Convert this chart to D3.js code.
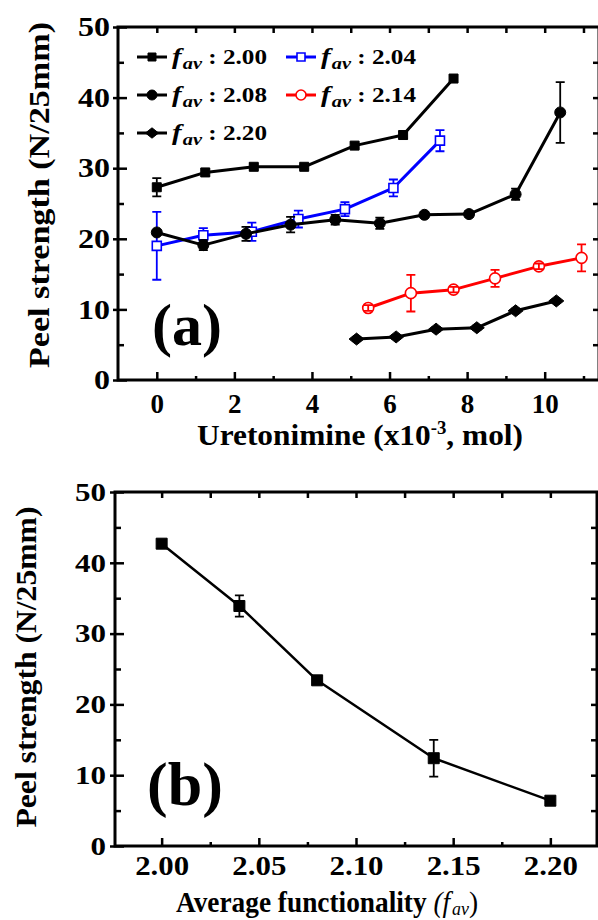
<!DOCTYPE html>
<html>
<head>
<meta charset="utf-8">
<script src="https://cdn.jsdelivr.net/npm/d3@7"></script>
<style>
body { margin: 0; background: #fff; }
svg text { font-family: "Liberation Serif", Tinos, "Times New Roman", Times, serif; font-weight: bold; }
</style>
</head>
<body>
<svg id="fig" width="598" height="920"></svg>
<script>
// panel (a) : peel strength vs uretonimine content, one series per f_av
const f200X = [0, 1.25, 2.5, 3.8, 5.1, 6.35, 7.65];
const f200Y = [27.3, 29.4, 30.2, 30.2, 33.2, 34.7, 42.7];
const f200E = [1.3, 0.5, 0.4, 0.3, 0.4, 0.5, 0.4];

const f204X = [0, 1.2, 2.45, 3.65, 4.85, 6.1, 7.3];
const f204Y = [19.0, 20.5, 21.0, 22.8, 24.2, 27.2, 33.9];
const f204E = [4.8, 1.0, 1.3, 1.2, 1.0, 1.2, 1.5];

const f208X = [0, 1.2, 2.3, 3.45, 4.6, 5.75, 6.9, 8.05, 9.25, 10.4];
const f208Y = [20.9, 19.1, 20.7, 22.0, 22.7, 22.2, 23.4, 23.5, 26.3, 37.9];
const f208E = [0.3, 0.7, 1.0, 1.1, 0.7, 0.8, 0.4, 0.4, 0.8, 4.3];

const f214X = [5.45, 6.55, 7.65, 8.72, 9.85, 10.95];
const f214Y = [10.2, 12.3, 12.8, 14.4, 16.1, 17.3];
const f214E = [0.4, 2.6, 0.4, 1.2, 0.4, 1.9];

const f220X = [5.15, 6.17, 7.2, 8.25, 9.25, 10.3];
const f220Y = [5.8, 6.1, 7.2, 7.4, 9.8, 11.2];
const f220E = [0.3, 0.3, 0.3, 0.3, 0.3, 0.3];

// panel (b) : peel strength vs average functionality
const favX = [2.00, 2.04, 2.08, 2.14, 2.20];
const peelY = [42.7, 33.9, 23.4, 12.4, 6.4];
const peelE = [0.4, 1.5, 0.4, 2.6, 0.3];

// tick labels
const aXTicks = [0, 2, 4, 6, 8, 10];
const aYTicks = [0, 10, 20, 30, 40, 50];
const bXTicks = [2.00, 2.05, 2.10, 2.15, 2.20];
const bYTicks = [0, 10, 20, 30, 40, 50];

const svg = d3.select('#fig');

const zip = (xs, ys, es) => xs.map((v, i) => ({ x: v, y: ys[i], e: es[i] }));

// marker shapes
function markerPath(shape, s) {
    if (shape === 'square') return d3.symbol(d3.symbolSquare, s * s)();
    if (shape === 'circle') return d3.symbol(d3.symbolCircle, Math.PI * s * s / 4)();
    // wide diamond
    const w = s / 2, h = s * 0.4;
    return `M${-w},0L0,${-h}L${w},0L0,${h}Z`;
}

function fixLen(sel, perChar) {
    sel.each(function () {
        d3.select(this).attr('textLength', perChar(this.textContent))
            .attr('lengthAdjust', 'spacingAndGlyphs');
    });
}

// box with ticks on all four sides
function frame(g, x, y, c) {
    const [x0, x1] = x.range();
    const [y0, y1] = y.range();

    const bottom = g.append('g').attr('transform', `translate(0,${y0})`)
        .call(d3.axisBottom(x).tickValues(c.xMajor).tickSizeInner(-8).tickSizeOuter(0)
            .tickPadding(c.xPad).tickFormat(c.xFmt));
    bottom.selectAll('text').attr('font-size', c.xFont);
    if (c.xLen) fixLen(bottom.selectAll('text'), c.xLen);

    const bottomMinor = g.append('g').attr('transform', `translate(0,${y0})`)
        .call(d3.axisBottom(x).tickValues(c.xMinor).tickSizeInner(-4).tickSizeOuter(0).tickFormat(''));

    const top = g.append('g').attr('transform', `translate(0,${y1})`)
        .call(d3.axisTop(x).tickValues(c.xTop).tickSizeInner(-6).tickSizeOuter(0).tickFormat(''));

    const left = g.append('g').attr('transform', `translate(${x0},0)`)
        .call(d3.axisLeft(y).tickValues(c.yMajor).tickSizeInner(-9).tickSizeOuter(0)
            .tickPadding(c.yPad).tickFormat(d3.format('d')));
    left.selectAll('line').attr('x1', -5);
    left.selectAll('text').attr('font-size', c.yFont);
    fixLen(left.selectAll('text'), c.yLen);

    const leftMinor = g.append('g').attr('transform', `translate(${x0},0)`)
        .call(d3.axisLeft(y).tickValues(c.yMinor).tickSizeInner(-6).tickSizeOuter(0).tickFormat(''));

    const right = g.append('g').attr('transform', `translate(${x1},0)`)
        .call(d3.axisRight(y).tickValues(c.yRight).tickSizeInner(-6).tickSizeOuter(0).tickFormat(''));

    [bottom, bottomMinor, top, left, leftMinor, right].forEach(a => {
        a.select('.domain').remove();
        a.selectAll('line').attr('stroke', '#000').attr('stroke-width', 2.5);
        a.selectAll('text').attr('fill', '#000');
    });

    g.append('rect')
        .attr('x', x0).attr('y', y1)
        .attr('width', x1 - x0).attr('height', y0 - y1)
        .attr('fill', 'none').attr('stroke', '#000').attr('stroke-width', 3);
}

function drawSeries(g, x, y, s) {
    const pts = zip(s.x, s.y, s.e);
    const line = d3.line().x(d => x(d.x)).y(d => y(d.y));
    g.append('path').datum(pts)
        .attr('d', line)
        .attr('fill', 'none')
        .attr('stroke', s.color)
        .attr('stroke-width', s.width)
        .attr('stroke-linejoin', 'round');

    g.selectAll(null).data(pts).enter().append('path')
        .attr('transform', d => `translate(${x(d.x)},${y(d.y)})`)
        .attr('d', markerPath(s.shape, s.size))
        .attr('fill', s.open ? '#fff' : s.color)
        .attr('stroke', s.color)
        .attr('stroke-width', s.open ? 1.6 : 1);

    // error bars: stem outside the marker, caps always
    const r = s.size / 2;
    const cap = 4.5;
    g.selectAll(null).data(pts).enter().append('path')
        .attr('d', d => {
            const cx = x(d.x), cy = y(d.y);
            const yt = y(d.y + d.e), yb = y(d.y - d.e);
            let p = `M${cx - cap},${yt}H${cx + cap}M${cx - cap},${yb}H${cx + cap}`;
            if (cy - yt > r + 1) p += `M${cx},${yt}V${cy - r}M${cx},${cy + r}V${yb}`;
            else p += `M${cx},${yt}V${yb}`;
            return p;
        })
        .attr('fill', 'none')
        .attr('stroke', s.color)
        .attr('stroke-width', 1.8);
}

// ---------- panel (a) ----------
const aX = d3.scaleLinear().domain([-1, 11.4]).range([118, 599]);
const aY = d3.scaleLinear().domain([0, 50]).range([380, 27]);
const ga = svg.append('g');

frame(ga, aX, aY, {
    xMajor: aXTicks, xMinor: [1, 3, 5, 7, 9, 11], xTop: d3.range(0, 12),
    xPad: 14, xFont: 27, xFmt: d3.format('d'),
    yMajor: aYTicks, yMinor: [5, 15, 25, 35, 45], yRight: d3.range(5, 50, 5),
    yPad: 8, yFont: 27, yLen: t => 16 * t.length
});

const seriesA = [
    { label: '2.00', x: f200X, y: f200Y, e: f200E, color: '#000', shape: 'square', size: 9, open: false, width: 3, col: 0, row: 0 },
    { label: '2.04', x: f204X, y: f204Y, e: f204E, color: '#0000ff', shape: 'square', size: 9, open: true, width: 3, col: 1, row: 0 },
    { label: '2.08', x: f208X, y: f208Y, e: f208E, color: '#000', shape: 'circle', size: 11, open: false, width: 3, col: 0, row: 1 },
    { label: '2.14', x: f214X, y: f214Y, e: f214E, color: '#ff0000', shape: 'circle', size: 11, open: true, width: 3, col: 1, row: 1 },
    { label: '2.20', x: f220X, y: f220Y, e: f220E, color: '#000', shape: 'diamond', size: 15, open: false, width: 3, col: 0, row: 2 }
];
seriesA.forEach(s => drawSeries(ga, aX, aY, s));

// legend
const legCols = [137, 286];
const legRows = [57, 95, 133];
const leg = ga.append('g');
seriesA.forEach(s => {
    const lx = legCols[s.col], ly = legRows[s.row];
    leg.append('line')
        .attr('x1', lx).attr('x2', lx + 30).attr('y1', ly).attr('y2', ly)
        .attr('stroke', s.color).attr('stroke-width', 3);
    leg.append('path')
        .attr('transform', `translate(${lx + 15},${ly})`)
        .attr('d', markerPath(s.shape, s.shape === 'diamond' ? 13 : s.size - 1))
        .attr('fill', s.open ? '#fff' : s.color)
        .attr('stroke', s.color).attr('stroke-width', s.open ? 1.6 : 1);
    const t = leg.append('text')
        .attr('x', lx + 35).attr('y', ly + 7)
        .attr('font-size', 21)
        .attr('fill', '#000')
        .attr('textLength', 95).attr('lengthAdjust', 'spacingAndGlyphs');
    t.append('tspan').attr('font-style', 'italic').attr('font-size', 24).text('f');
    t.append('tspan').attr('font-style', 'italic').attr('font-size', 17).attr('dy', 5).attr('dx', 1).text('av');
    t.append('tspan').attr('dy', -5).text(' : ' + s.label);
});

ga.append('text').attr('x', 152).attr('y', 345).attr('font-size', 60).attr('fill', '#000').text('(a)');

const xtA = ga.append('text').attr('x', 360).attr('y', 445).attr('text-anchor', 'middle')
    .attr('font-size', 30).attr('fill', '#000')
    .attr('textLength', 326).attr('lengthAdjust', 'spacingAndGlyphs');
xtA.append('tspan').text('Uretonimine (x10');
xtA.append('tspan').attr('font-size', 18).attr('dy', -11).text('-3');
xtA.append('tspan').attr('dy', 11).text(', mol)');

ga.append('text').attr('transform', 'translate(49,195) rotate(-90)')
    .attr('text-anchor', 'middle').attr('font-size', 30).attr('fill', '#000')
    .attr('textLength', 346).attr('lengthAdjust', 'spacingAndGlyphs')
    .text('Peel strength (N/25mm)');

// ---------- panel (b) ----------
const bX = d3.scaleLinear().domain([1.976, 2.224]).range([115, 597]);
const bY = d3.scaleLinear().domain([0, 50]).range([846, 492]);
const gb = svg.append('g');

frame(gb, bX, bY, {
    xMajor: bXTicks, xMinor: [2.025, 2.075, 2.125, 2.175], xTop: d3.range(0, 9).map(i => 2 + i * 0.025),
    xPad: 10, xFont: 27, xFmt: d3.format('.2f'), xLen: t => 13.5 * t.length,
    yMajor: bYTicks, yMinor: [5, 15, 25, 35, 45], yRight: d3.range(5, 50, 5),
    yPad: 9, yFont: 26, yLen: t => 15.5 * t.length
});

drawSeries(gb, bX, bY, {
    x: favX, y: peelY, e: peelE, color: '#000', shape: 'square', size: 11, open: false, width: 2.5
});

gb.append('text').attr('x', 147).attr('y', 805).attr('font-size', 62).attr('fill', '#000').text('(b)');

const xtB = gb.append('text').attr('x', 327).attr('y', 912).attr('text-anchor', 'middle')
    .attr('font-size', 29).attr('fill', '#000')
    .attr('textLength', 302).attr('lengthAdjust', 'spacingAndGlyphs');
xtB.append('tspan').text('Average functionality ');
xtB.append('tspan').attr('font-weight', 'normal').attr('font-style', 'italic').text('(f');
xtB.append('tspan').attr('font-weight', 'normal').attr('font-style', 'italic').attr('font-size', 19).attr('dy', 3).attr('dx', 2).text('av');
xtB.append('tspan').attr('font-weight', 'normal').attr('dy', -3).text(')');

gb.append('text').attr('transform', 'translate(36,667) rotate(-90)')
    .attr('text-anchor', 'middle').attr('font-size', 29).attr('fill', '#000')
    .attr('textLength', 321).attr('lengthAdjust', 'spacingAndGlyphs')
    .text('Peel strength (N/25mm)');
</script>
</body>
</html>
